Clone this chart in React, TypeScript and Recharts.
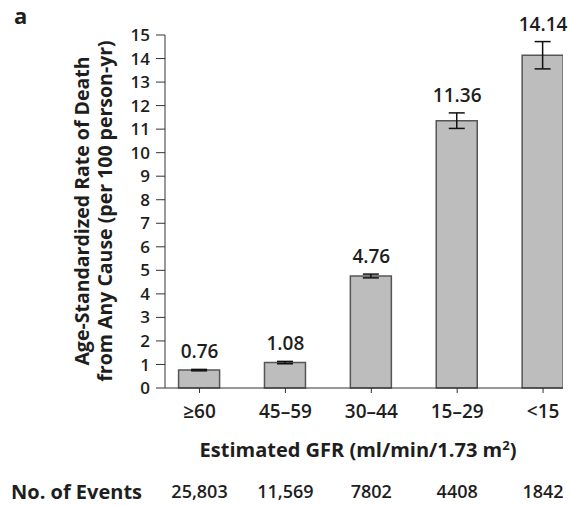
import { ComposedChart, Bar, Line, XAxis, YAxis, ErrorBar, LabelList } from 'recharts';

const groups = ['≥60', '45–59', '30–44', '15–29', '<15'];
const rates = [0.76, 1.08, 4.76, 11.36, 14.14];
const errors = [0.03, 0.05, 0.08, 0.33, 0.58];
const events = ['25,803', '11,569', '7802', '4408', '1842'];
const yTicks = [0, 1, 2, 3, 4, 5, 6, 7, 8, 9, 10, 11, 12, 13, 14, 15];

const data = groups.map((g, i) => ({
  x: i,
  group: g,
  rate: rates[i],
  err: errors[i],
  top: rates[i] + errors[i],
  label: rates[i].toFixed(2),
}));

const FONT = '"Open Sans", "DejaVu Sans", sans-serif';
const INK = '#1e1e1e';

const GroupTick = (props: any) => {
  const { x, y, payload } = props;
  const i = payload.value;
  return (
    <g>
      <text x={x} y={y + 23} textAnchor="middle" fontFamily={FONT} fontSize={19} fontWeight={600} fill={INK}>
        {groups[i]}
      </text>
      <text x={x} y={y + 103} textAnchor="middle" fontFamily={FONT} fontSize={18} fontWeight={600} fill={INK}>
        {events[i]}
      </text>
    </g>
  );
};

const XTitle = (props: any) => {
  const { y } = props.viewBox;
  return (
    <g>
      <text x={358} y={y + 69} textAnchor="middle" fontFamily={FONT} fontSize={20} fontWeight={700} fill={INK}>
        Estimated GFR (ml/min/1.73 m<tspan dy={-7} fontSize={13}>2</tspan><tspan dy={7}>)</tspan>
      </text>
      <text x={11} y={y + 111} textAnchor="start" fontFamily={FONT} fontSize={20} fontWeight={700} fill={INK}>
        No. of Events
      </text>
    </g>
  );
};

const YTitle = () => {
  const cy = 211;
  return (
    <g fontFamily={FONT} fontSize={19.5} fontWeight={700} fill={INK}>
      <text x={14} y={24} fontSize={22} fontWeight={700}>a</text>
      <text transform={`translate(89, ${cy}) rotate(-90)`} textAnchor="middle">
        Age-Standardized Rate of Death
      </text>
      <text transform={`translate(112, ${cy}) rotate(-90)`} textAnchor="middle">
        from Any Cause (per 100 person-yr)
      </text>
    </g>
  );
};

export default function App() {
  return (
    <div style={{ position: 'absolute', left: 0, top: 0, background: '#fff' }}>
      <ComposedChart width={571} height={506} data={data} margin={{ top: 35, right: 8, bottom: 0, left: 0 }}>
        <XAxis
          type="number"
          dataKey="x"
          domain={[-0.402, 4.232]}
          ticks={[0, 1, 2, 3, 4]}
          allowDataOverflow
          height={118}
          tickSize={5}
          stroke="#333"
          tick={<GroupTick />}
          label={{ content: <XTitle /> }}
        />
        <YAxis
          domain={[0, 15]}
          ticks={yTicks}
          interval={0}
          width={165}
          tickSize={9}
          tickMargin={6}
          stroke="#333"
          tick={{ fontFamily: FONT, fontSize: 17, fontWeight: 600, fill: INK }}
          label={{ content: <YTitle /> }}
        />
        <Bar dataKey="rate" barSize={41} fill="#bdbdbd" stroke="#555" strokeWidth={1.5} isAnimationActive={false}>
          <ErrorBar dataKey="err" width={8} stroke="#111" strokeWidth={1.5} direction="y" />
        </Bar>
        <Line dataKey="top" stroke="none" dot={false} activeDot={false} isAnimationActive={false}>
          <LabelList
            dataKey="label"
            position="top"
            offset={11}
            style={{ fontFamily: FONT, fontSize: 19, fontWeight: 600, fill: INK }}
          />
        </Line>
      </ComposedChart>
    </div>
  );
}
